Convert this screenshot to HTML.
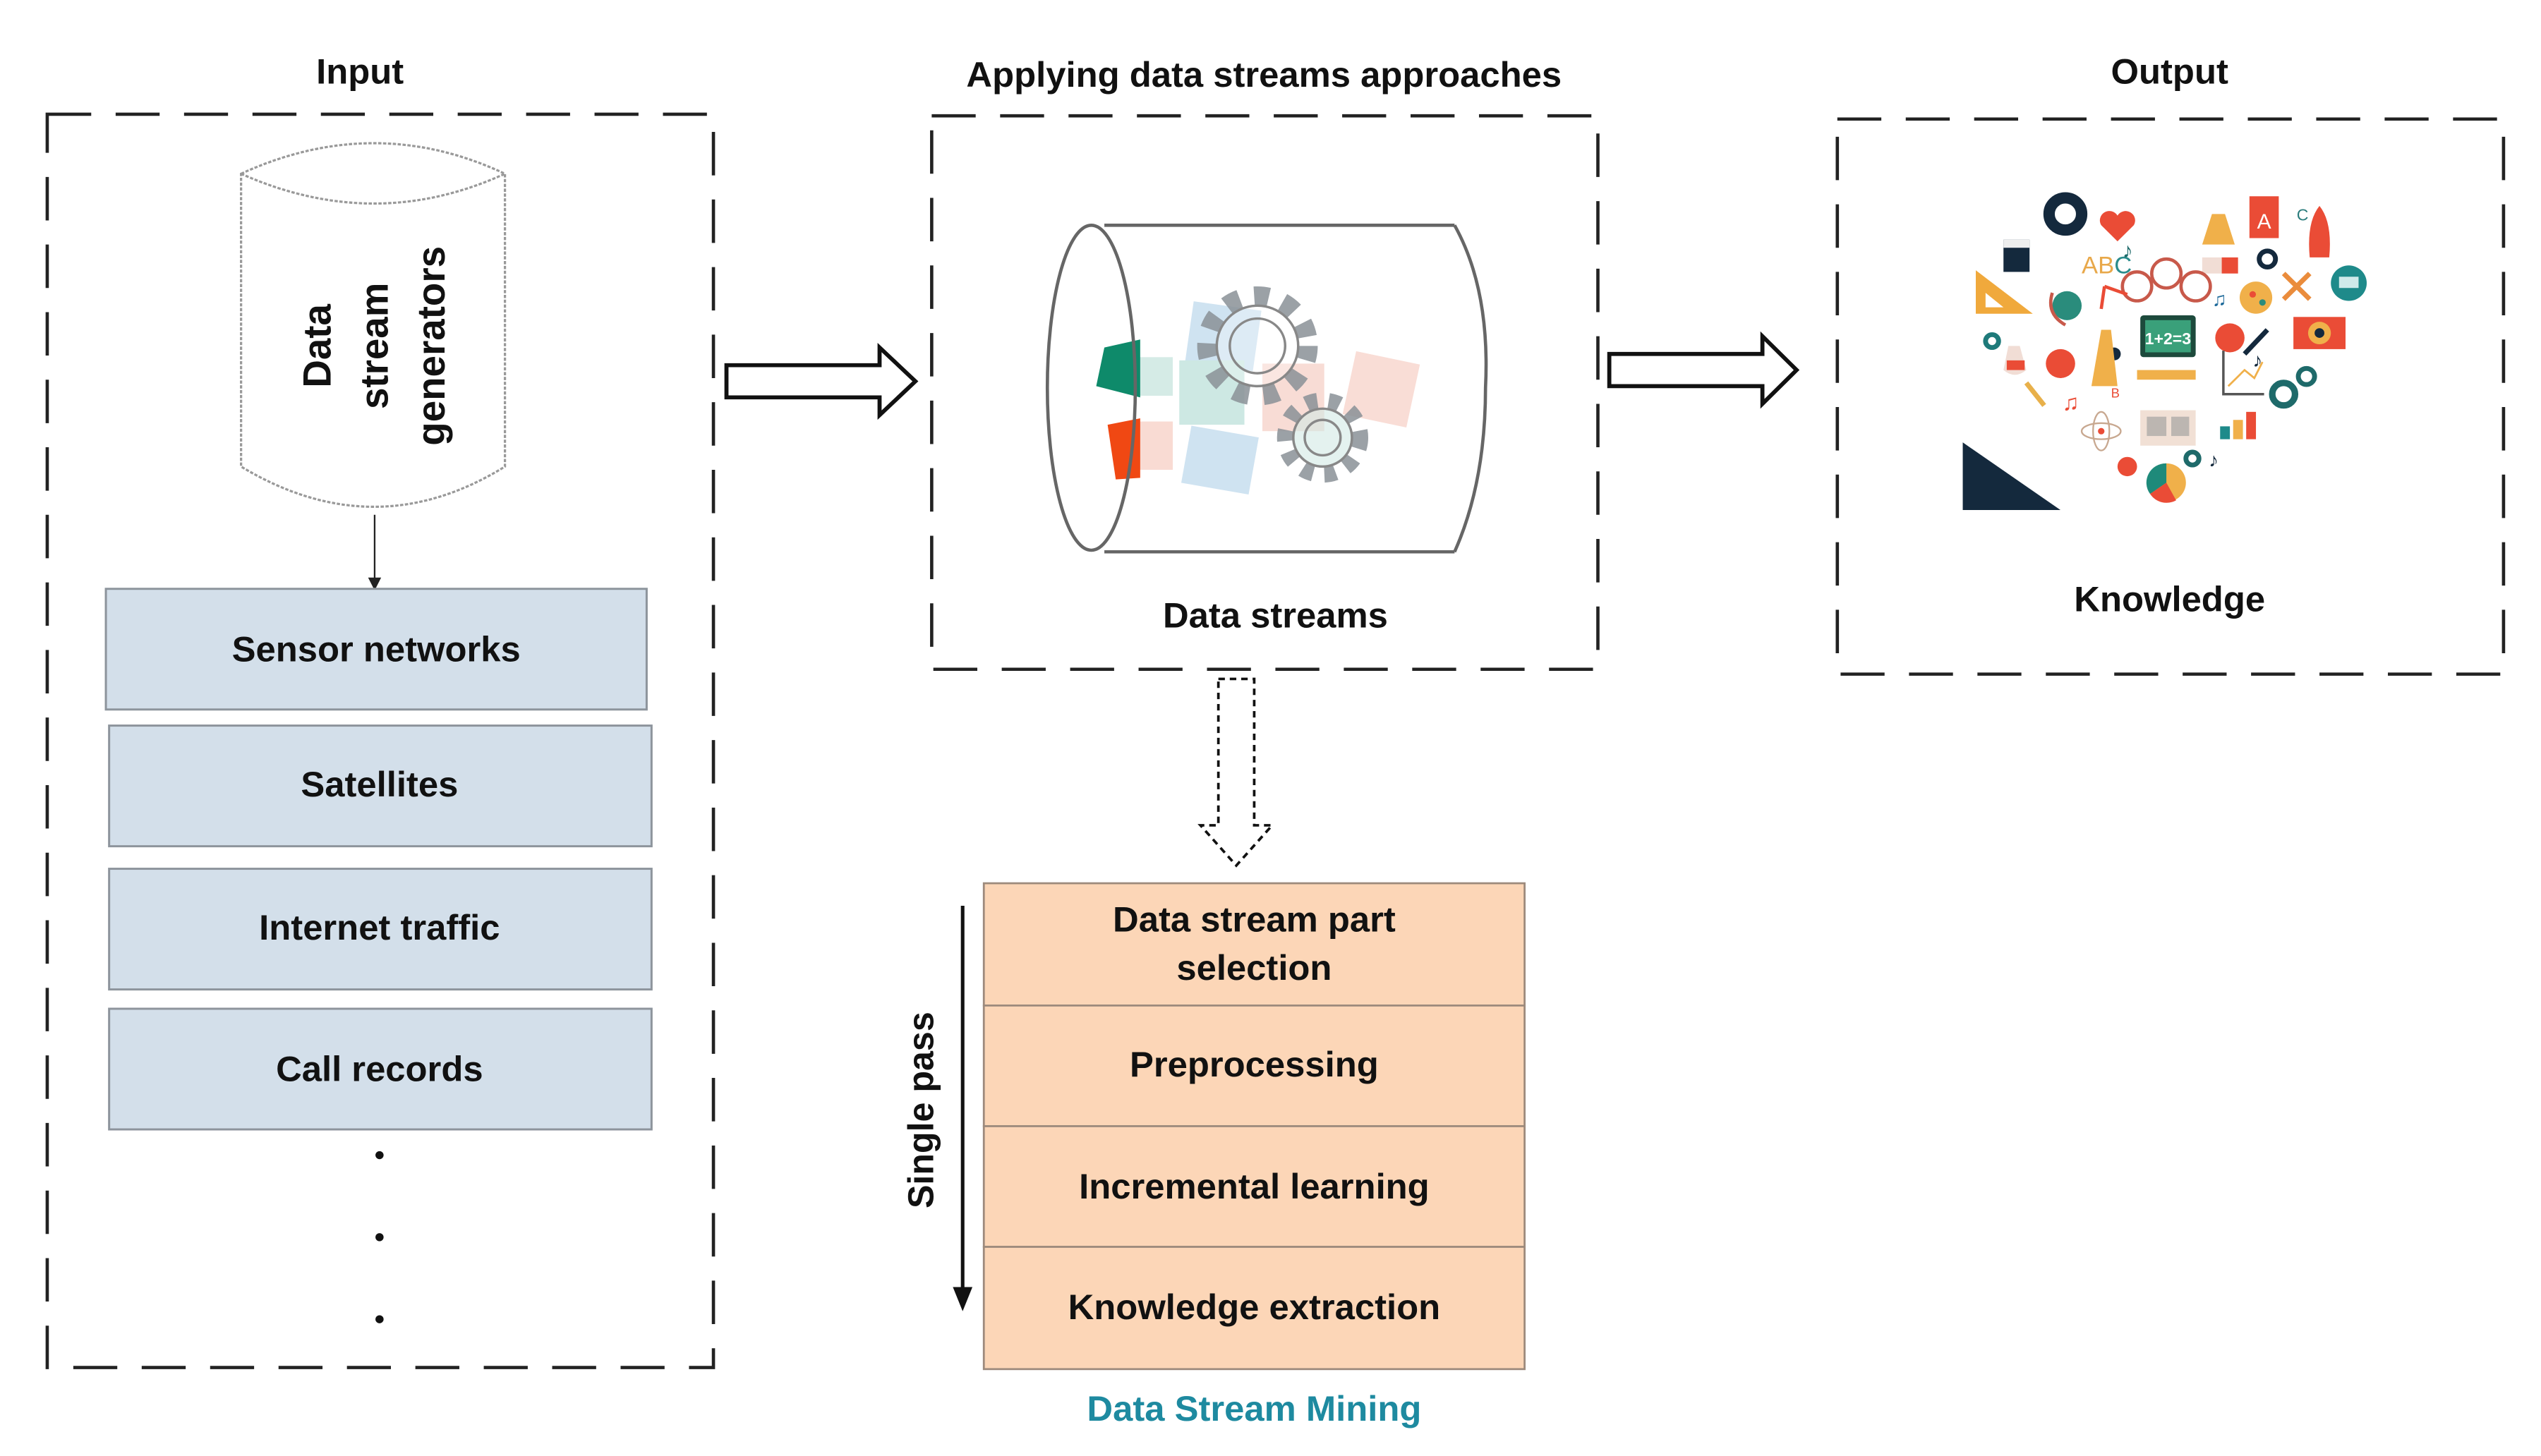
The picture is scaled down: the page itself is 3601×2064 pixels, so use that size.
<!DOCTYPE html>
<html><head><meta charset="utf-8"><style>
html,body{margin:0;padding:0;background:#fff;width:3601px;height:2064px;overflow:hidden}
svg{display:block}
text{font-family:"Liberation Sans","DejaVu Sans",sans-serif;}
</style></head><body>
<svg width="3601" height="2064" viewBox="0 0 1560 905" preserveAspectRatio="none" xmlns="http://www.w3.org/2000/svg">
<rect width="1560" height="905" fill="#fff"/>
<!-- titles -->
<g font-size="22" font-weight="600" fill="#111" text-anchor="middle">
<text x="221" y="52">Input</text>
<text x="776" y="54">Applying data streams approaches</text>
<text x="1332" y="52">Output</text>
<text x="783" y="390">Data streams</text>
<text x="1332" y="380">Knowledge</text>
</g>
<!-- dashed boxes -->
<g fill="none" stroke="#222" stroke-width="2" stroke-dasharray="27 15">
<rect x="29" y="71" width="409" height="779"/>
<rect x="572" y="72" width="409" height="344"/>
<rect x="1128" y="74" width="409" height="345"/>
</g>
<!-- vertical cylinder -->
<g fill="#fff" stroke="#999" stroke-width="1.4" stroke-dasharray="2 1">
<path d="M148,108 Q230,70 310,108 L310,290 Q230,340 148,290 Z"/>
<path d="M148,108 Q230,145 310,108" fill="none"/>
<path d="M148,290 Q230,250 310,290" fill="none" stroke-opacity="0"/>
</g>
<g font-size="24" font-weight="600" fill="#111" text-anchor="middle">
<text transform="translate(203,215) rotate(-90)">Data</text>
<text transform="translate(238,215) rotate(-90)">stream</text>
<text transform="translate(273,215) rotate(-90)">generators</text>
</g>
<line x1="230" y1="320" x2="230" y2="360" stroke="#222" stroke-width="1"/>
<polygon points="226,359 234,359 230,367" fill="#222"/>
<!-- blue boxes -->
<g fill="#d3dfea" stroke="#8d949c" stroke-width="1.3">
<rect x="65" y="366" width="332" height="75"/>
<rect x="67" y="451" width="333" height="75"/>
<rect x="67" y="540" width="333" height="75"/>
<rect x="67" y="627" width="333" height="75"/>
</g>
<g font-size="22" font-weight="600" fill="#111" text-anchor="middle">
<text x="231" y="411">Sensor networks</text>
<text x="233" y="495">Satellites</text>
<text x="233" y="584">Internet traffic</text>
<text x="233" y="672">Call records</text>
</g>
<circle cx="233" cy="718" r="2.5" fill="#111"/>
<circle cx="233" cy="769" r="2.5" fill="#111"/>
<circle cx="233" cy="820" r="2.5" fill="#111"/>
<!-- big arrows -->
<polygon points="446,227 540,227 540,216 562,237 540,258 540,247 446,247" fill="#fff" stroke="#111" stroke-width="2.5"/>
<polygon points="988,220 1082,220 1082,209 1103,230 1082,251 1082,240 988,240" fill="#fff" stroke="#111" stroke-width="2.5"/>
<!-- horizontal cylinder -->
<g stroke="#666" stroke-width="2" fill="none">
<line x1="678" y1="140" x2="893" y2="140"/>
<line x1="678" y1="343" x2="893" y2="343"/>
<path d="M893,140 Q915,180 912,241 Q912,300 893,343"/>
</g>
<!-- colored squares -->
<g>
<rect x="730" y="190" width="42" height="38" fill="#cfe3f1" transform="rotate(8 751 209)"/>
<rect x="724" y="224" width="40" height="40" fill="#cde8e3"/>
<rect x="728" y="268" width="42" height="36" fill="#cfe3f1" transform="rotate(10 749 286)"/>
<rect x="775" y="226" width="38" height="42" fill="#f8dcd5"/>
<rect x="828" y="222" width="40" height="40" fill="#f9ddd6" transform="rotate(12 848 242)"/>
<rect x="698" y="222" width="22" height="24" fill="#d5ebe6"/>
<rect x="698" y="262" width="22" height="30" fill="#f9dbd3"/>
<polygon points="678,216 700,211 700,247 673,240" fill="#0e8a6a"/>
<polygon points="680,264 700,260 700,297 685,298" fill="#f04813"/>
</g>
<!-- gears -->
<g fill="none" stroke="#888" stroke-width="1.5">
<circle cx="772" cy="215" r="31" stroke="#8a9096" stroke-width="12" stroke-dasharray="9 9" opacity="0.85"/>
<circle cx="772" cy="215" r="25" fill="#fff" fill-opacity="0.3"/>
<circle cx="772" cy="215" r="17"/>
<circle cx="812" cy="272" r="23" stroke="#8a9096" stroke-width="10" stroke-dasharray="7 7" opacity="0.85"/>
<circle cx="812" cy="272" r="18" fill="#d2e9e4" fill-opacity="0.6"/>
<circle cx="812" cy="272" r="11"/>
</g>
<ellipse cx="670" cy="241" rx="27" ry="101" fill="none" stroke="#666" stroke-width="2"/>
<!-- dashed down arrow -->
<polygon points="748,422 770,422 770,513 781,513 759,538 737,513 748,513" fill="#fff" stroke="#111" stroke-width="1.6" stroke-dasharray="4 3"/>
<!-- orange stack -->
<g fill="#fcd6b7" stroke="#9d8a7c" stroke-width="1.2">
<rect x="604" y="549" width="332" height="76"/>
<rect x="604" y="625" width="332" height="75"/>
<rect x="604" y="700" width="332" height="75"/>
<rect x="604" y="775" width="332" height="76"/>
</g>
<g font-size="22" font-weight="600" fill="#111" text-anchor="middle">
<text x="770" y="579">Data stream part</text>
<text x="770" y="609">selection</text>
<text x="770" y="669">Preprocessing</text>
<text x="770" y="745">Incremental learning</text>
<text x="770" y="820">Knowledge extraction</text>
<text transform="translate(573,690) rotate(-90)">Single pass</text>
</g>
<line x1="591" y1="563" x2="591" y2="803" stroke="#111" stroke-width="2.2"/>
<polygon points="585,800 597,800 591,815" fill="#111"/>
<text x="770" y="883" font-size="22" font-weight="700" fill="#1e8aa0" text-anchor="middle">Data Stream Mining</text>
<!-- knowledge heart icons -->
<g>
<polygon points="1205,275 1205,317 1265,317" fill="#14293d"/>
<circle cx="1268" cy="133" r="10" fill="none" stroke="#14293d" stroke-width="7"/>
<path d="M1300,150 L1290,140 A5,5 0 0 1 1300,134 A5,5 0 0 1 1310,140 Z" fill="#ea4c36"/>
<rect x="1230" y="149" width="16" height="20" fill="#14293d"/>
<rect x="1230" y="149" width="16" height="5" fill="#eee"/>
<text x="1278" y="170" font-size="15" fill="#e8a84a">AB<tspan fill="#2a8c8c">C</tspan></text>
<polygon points="1213,168 1213,195 1248,195" fill="#f0a93c"/>
<polygon points="1219,182 1219,191 1230,191" fill="#fff"/>
<rect x="1381" y="122" width="18" height="26" fill="#ea4c36"/>
<text x="1390" y="142" font-size="13" fill="#fff" text-anchor="middle">A</text>
<text x="1410" y="137" font-size="10" fill="#2a7c7c">C</text>
<path d="M1424,128 Q1432,138 1430,160 L1418,160 Q1416,138 1424,128 Z" fill="#ea4c36"/>
<polygon points="1358,133 1366,133 1372,152 1352,152" fill="#f0b04a"/>
<circle cx="1392" cy="161" r="5" fill="none" stroke="#14293d" stroke-width="3"/>
<rect x="1352" y="160" width="12" height="10" fill="#f1ddd5"/>
<rect x="1364" y="160" width="10" height="10" fill="#ea4c36"/>
<g fill="none" stroke="#c8594a" stroke-width="2">
<circle cx="1312" cy="178" r="9"/><circle cx="1330" cy="170" r="9"/><circle cx="1348" cy="178" r="9"/>
</g>
<path d="M1292,178 L1306,183 M1292,178 L1290,192" stroke="#ea4c36" stroke-width="2"/>
<circle cx="1269" cy="190" r="9" fill="#2a8c7c"/>
<path d="M1260,182 Q1256,195 1268,202" fill="none" stroke="#c8594a" stroke-width="2"/>
<rect x="1314" y="196" width="34" height="26" rx="2" fill="#1d4a3c"/>
<rect x="1317" y="199" width="28" height="20" fill="#3aa07a"/>
<text x="1331" y="214" font-size="10" font-weight="700" fill="#fff" text-anchor="middle">1+2=3</text>
<rect x="1312" y="230" width="36" height="6" fill="#f0b04a"/>
<circle cx="1298" cy="220" r="4" fill="#14293d"/>
<path d="M1290,205 L1296,205 L1300,240 L1284,240 Z" fill="#f0b04a"/>
<circle cx="1385" cy="185" r="10" fill="#f0b04a"/>
<circle cx="1383" cy="183" r="2" fill="#ea4c36"/><circle cx="1389" cy="188" r="2" fill="#2a8c7c"/>
<path d="M1402,170 L1418,186 M1418,170 L1402,186" stroke="#ea8c3c" stroke-width="3"/>
<circle cx="1442" cy="176" r="11" fill="#1e8a8a"/>
<rect x="1436" y="172" width="12" height="7" fill="#cfeaea"/>
<rect x="1408" y="197" width="32" height="20" fill="#ea4c36"/>
<circle cx="1424" cy="207" r="7" fill="#f0b04a"/><circle cx="1424" cy="207" r="3" fill="#14293d"/>
<circle cx="1369" cy="210" r="9" fill="#ea4c36"/>
<circle cx="1223" cy="212" r="4" fill="none" stroke="#1e7a7a" stroke-width="3"/>
<path d="M1233,215 L1240,215 L1244,230 Q1237,236 1230,230 Z" fill="#f1ddd5"/>
<rect x="1232" y="224" width="11" height="6" fill="#ea4c36"/>
<circle cx="1265" cy="226" r="9" fill="#ea4c36"/>
<path d="M1365,218 L1365,245 L1390,245" fill="none" stroke="#555" stroke-width="1.5"/>
<path d="M1368,240 L1378,230 L1384,235 L1389,225" fill="none" stroke="#f0b04a" stroke-width="1.2"/>
<path d="M1378,220 L1392,205" stroke="#14293d" stroke-width="3"/>
<circle cx="1402" cy="245" r="7" fill="none" stroke="#1e6a6a" stroke-width="4"/>
<circle cx="1416" cy="234" r="5" fill="none" stroke="#1e6a6a" stroke-width="3"/>
<path d="M1244,238 L1255,252" stroke="#e8b04a" stroke-width="3"/>
<text x="1266" y="255" font-size="14" fill="#ea4c36">♫</text>
<text x="1296" y="247" font-size="8" fill="#ea4c36">B</text>
<ellipse cx="1290" cy="268" rx="12" ry="5" fill="none" stroke="#c8a890" stroke-width="1"/>
<ellipse cx="1290" cy="268" rx="5" ry="12" fill="none" stroke="#c8a890" stroke-width="1"/>
<circle cx="1290" cy="268" r="2" fill="#ea4c36"/>
<rect x="1314" y="255" width="34" height="22" fill="#f1e0d5"/>
<rect x="1318" y="259" width="12" height="12" fill="#999" opacity="0.6"/>
<rect x="1333" y="259" width="11" height="12" fill="#999" opacity="0.6"/>
<rect x="1363" y="265" width="6" height="8" fill="#1e8a8a"/>
<rect x="1371" y="261" width="6" height="12" fill="#f0b04a"/>
<rect x="1379" y="256" width="6" height="17" fill="#ea4c36"/>
<circle cx="1306" cy="290" r="6" fill="#ea4c36"/>
<circle cx="1346" cy="285" r="4" fill="none" stroke="#1e6a6a" stroke-width="3"/>
<text x="1356" y="290" font-size="12" fill="#14293d">♪</text>
<circle cx="1330" cy="300" r="12" fill="#f0b04a"/>
<path d="M1330,300 L1330,288 A12,12 0 0 0 1320,307 Z" fill="#1e8a7a"/>
<path d="M1330,300 L1320,307 A12,12 0 0 0 1336,311 Z" fill="#ea4c36"/>
<text x="1303" y="160" font-size="13" fill="#1e6a6a">♪</text>
<text x="1358" y="190" font-size="12" fill="#1e6a9a">♫</text>
<text x="1383" y="228" font-size="12" fill="#14293d">♪</text>
</g>
</svg>
</body></html>
